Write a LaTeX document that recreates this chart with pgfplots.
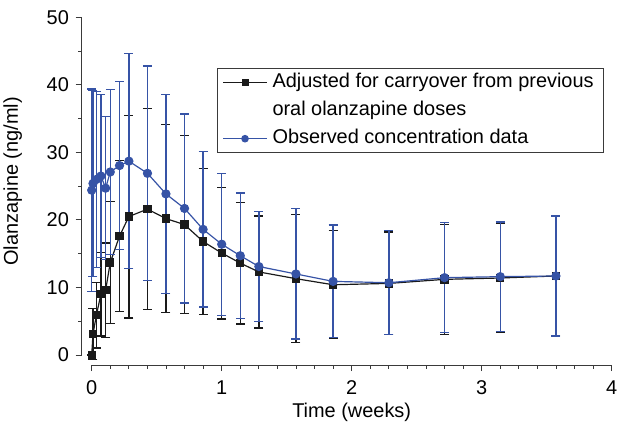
\documentclass[border=0pt]{standalone}
\usepackage{fontspec}
\setmainfont{Liberation Sans}
\usepackage{pgfplots}
\pgfplotsset{compat=1.18}
\usepackage{pgfplotstable}
\usetikzlibrary{calc}
\definecolor{obsblue}{HTML}{3653A6}
\definecolor{adjblack}{HTML}{1A1A1A}
\definecolor{axgray}{HTML}{3A3A3A}
\pgfplotstableread{
t v e
0 0 0
0.010 3.1 3.8
0.036 5.9 4.85
0.071 9.0 6.2
0.107 9.6 7.0
0.143 13.7 9.0
0.214 17.6 11.2
0.286 20.5 15.0
0.429 21.6 14.85
0.571 20.2 13.95
0.714 19.3 13.15
0.857 16.8 10.85
1.000 15.1 9.75
1.143 13.6 9.0
1.286 12.3 8.3
1.571 11.3 9.5
1.857 10.4 8.0
2.286 10.6 7.6
2.714 11.2 8.15
3.143 11.4 8.1
3.571 11.7 8.8
}\adjusted
\pgfplotstableread{
t v e
0 24.4 15.0
0.010 25.4 13.8
0.036 26.0 13.0
0.071 26.5 12.1
0.107 24.7 10.6
0.143 27.1 12.2
0.214 28.05 12.45
0.286 28.7 15.9
0.429 26.9 15.9
0.571 23.85 14.75
0.714 21.7 14.0
0.857 18.6 11.5
1.000 16.4 10.5
1.143 14.7 9.3
1.286 13.1 8.1
1.571 12.0 9.65
1.857 10.9 8.35
2.286 10.7 7.7
2.714 11.45 8.15
3.143 11.6 8.1
3.571 11.7 8.9
}\observed
\newcommand\chartfont{\fontsize{20}{28.5}\selectfont}
\begin{document}
\chartfont
\begin{tikzpicture}
\begin{axis}[
  scale only axis,
  width=520bp, height=337.7bp,
  xmin=0, xmax=4, ymin=0, ymax=50,
  clip=false,
  axis lines*=left,
  axis x line shift=10bp,
  axis y line shift=10bp,
  axis line style={axgray, line width=1pt},
  xtick={0,1,2,3,4},
  minor x tick num=6,
  ytick={0,10,20,30,40,50},
  minor y tick num=1,
  tick align=outside,
  major tick length=6bp,
  minor tick length=3.5bp,
  tick style={axgray, line width=0.9pt},
  /pgf/number format/assume math mode=true,
  tick label style={font=\chartfont},
  xticklabel style={yshift=-3bp},
  xlabel={Time (weeks)},
  ylabel={Olanzapine (ng/ml)},
  every axis x label/.style={at={($(rel axis cs:0.5,0)+(0,-62bp)$)}, anchor=center, font=\chartfont},
  every axis y label/.style={at={($(rel axis cs:0,0.5)+(-79bp,0)$)}, anchor=center, rotate=90, font=\chartfont},
  legend style={at={(rel axis cs:0.241,0.85)}, anchor=north west,
    draw=axgray, line width=1pt, font=\chartfont,
    inner xsep=5bp, inner ysep=0bp, row sep=0pt,
    nodes={inner xsep=5bp, inner ysep=4.3bp, text height=15bp, text depth=4.5bp},
    cells={anchor=west}},
  legend image code/.code={%
    \draw[mark repeat=2, mark phase=2, #1, line width=1pt]
      plot coordinates {(0bp,0bp) (22bp,0bp) (44bp,0bp)};},
]
\coordinate (bbA) at ($(rel axis cs:0,0)+(-91.7bp,-75bp)$);
\coordinate (bbB) at ($(rel axis cs:1,1)+(5.3bp,17.3bp)$);
\addplot[forget plot, adjblack, line width=1.2pt, mark=square*, mark size=3.6bp,
  error bars/.cd, y dir=both, y explicit,
  error bar style={adjblack, line width=1.3pt},
  error mark options={rotate=90, mark size=4.5bp, line width=1.3pt, adjblack}]
  table[x=t, y=v, y error=e] {\adjusted};
\addplot[forget plot, obsblue, line width=1.2pt, mark=*, mark size=4bp,
  error bars/.cd, y dir=both, y explicit,
  error bar style={obsblue, line width=1.3pt},
  error mark options={rotate=90, mark size=4.5bp, line width=1.3pt, obsblue}]
  table[x=t, y=v, y error=e] {\observed};
\addlegendimage{adjblack, line width=1pt, mark=square*, mark size=3bp}
\addlegendentry{Adjusted for carryover from previous}
\addlegendimage{empty legend}
\addlegendentry{oral olanzapine doses}
\addlegendimage{obsblue, line width=1pt, mark=*, mark size=3.3bp}
\addlegendentry{Observed concentration data}
\end{axis}
\pgfresetboundingbox
\path (bbA) rectangle (bbB);
\end{tikzpicture}
\end{document}
